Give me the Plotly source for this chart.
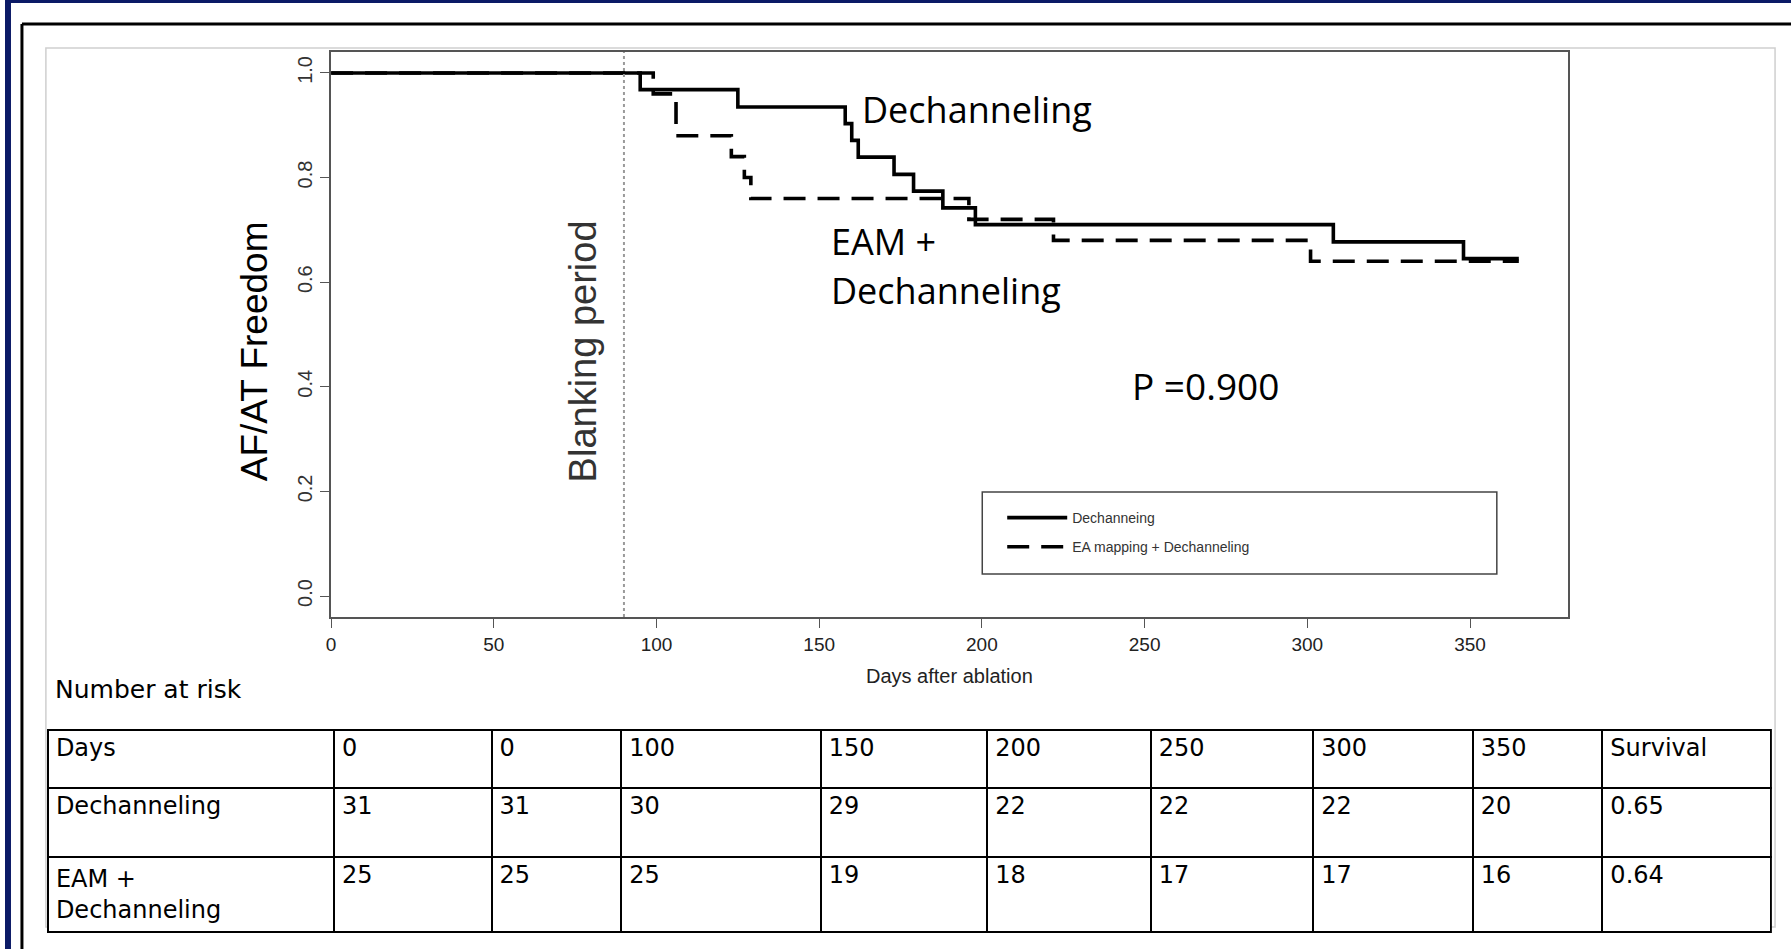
import plotly.graph_objects as go

W, H = 1791, 949

# ---- data ----
dech_days = [0, 95, 125, 158, 160, 162, 173, 179, 188, 198, 308, 348, 365]
dech_surv = [1.0, 0.968, 0.935, 0.903, 0.871, 0.839, 0.806, 0.774, 0.742, 0.710, 0.677, 0.645, 0.645]

eam_days = [0, 99, 106, 123, 127, 129, 196, 222, 301, 365]
eam_surv = [1.0, 0.96, 0.88, 0.84, 0.80, 0.76, 0.72, 0.68, 0.64, 0.64]

blanking_day = 90
p_value = "0.900"

risk_days = [0, 0, 100, 150, 200, 250, 300, 350]
dech_at_risk = [31, 31, 30, 29, 22, 22, 22, 20]
eam_at_risk = [25, 25, 25, 19, 18, 17, 17, 16]
survival = [0.65, 0.64]
group_labels = ["Dechanneling", "EAM +<br>Dechanneling"]
legend_names = ["Dechanneing", "EA mapping + Dechanneling"]

x_ticks = [0, 50, 100, 150, 200, 250, 300, 350]
y_ticks = [0.0, 0.2, 0.4, 0.6, 0.8, 1.0]


def px(x):
    return x / W


def py(y):
    return 1 - y / H


fig = go.Figure()

fig.add_trace(go.Scatter(
    x=dech_days, y=dech_surv, mode="lines", line_shape="hv",
    line=dict(color="black", width=3.6), name=legend_names[0],
    legendgroup="a", hoverinfo="skip"))
fig.add_trace(go.Scatter(
    x=eam_days, y=eam_surv, mode="lines", line_shape="hv",
    line=dict(color="black", width=3.6, dash="22px,12px"), name=legend_names[1],
    legendgroup="b", hoverinfo="skip"))

header = ["Days"] + [str(d) for d in risk_days] + ["Survival"]
cols = [group_labels] + [[a, b] for a, b in zip(dech_at_risk, eam_at_risk)] + [[f"{s:.2f}" for s in survival]]
tfont = dict(family="DejaVu Sans", size=24, color="black")
fig.add_trace(go.Table(
    domain=dict(x=[px(43), px(1771)], y=[0, py(730)]),
    columnwidth=[287, 158, 130, 200, 167, 164, 163, 160, 130, 169],
    header=dict(values=header, align="left", font=tfont, fill_color="white",
                line=dict(color="black", width=2), height=58),
    cells=dict(values=cols, align="left", font=tfont, fill_color="white",
               line=dict(color="black", width=2), height=69),
))

shapes = [
    # navy frame strips
    dict(type="rect", xref="paper", yref="paper", x0=0, x1=px(6), y0=0, y1=1,
         fillcolor="#0b1a66", line_width=0, layer="below"),
    dict(type="rect", xref="paper", yref="paper", x0=0, x1=1, y0=py(3), y1=1,
         fillcolor="#0b1a66", line_width=0, layer="below"),
    # black border
    dict(type="line", xref="paper", yref="paper", x0=px(17), x1=px(17), y0=0, y1=py(24),
         line=dict(color="black", width=3), layer="below"),
    dict(type="line", xref="paper", yref="paper", x0=px(17), x1=1, y0=py(24), y1=py(24),
         line=dict(color="black", width=3), layer="below"),
    # light gray inner frame
    dict(type="rect", xref="paper", yref="paper", x0=px(41), x1=px(1775), y0=py(927), y1=py(48),
         line=dict(color="#cfcfcf", width=1.5), layer="below"),
    # blanking period line
    dict(type="line", xref="x", yref="y domain", x0=blanking_day, x1=blanking_day, y0=0, y1=1,
         line=dict(color="#9a9a9a", width=2, dash="dot")),
    # legend box
    dict(type="rect", xref="paper", yref="paper", x0=px(980), x1=px(1496), y0=py(574), y1=py(492),
         line=dict(color="#444", width=1.5)),
]

big = dict(family="Open Sans", size=36, color="black")
annotations = [
    dict(text="Dechanneling", x=px(857), y=py(109), xanchor="left", yanchor="middle", font=big),
    dict(text="EAM +", x=px(826), y=py(241), xanchor="left", yanchor="middle", font=big),
    dict(text="Dechanneling", x=px(826), y=py(290), xanchor="left", yanchor="middle", font=big),
    dict(text="P =" + p_value, x=px(1128), y=py(386), xanchor="left", yanchor="middle",
         font=dict(family="Open Sans", size=37, color="black")),
    dict(text="AF/AT Freedom", x=px(251), y=py(351), textangle=-90, xanchor="center", yanchor="middle",
         font=dict(family="Liberation Sans", size=37, color="black")),
    dict(text="Blanking period", x=px(580), y=py(351), textangle=-90, xanchor="center", yanchor="middle",
         font=dict(family="Liberation Sans", size=38, color="#333")),
    dict(text="Days after ablation", x=px(947), y=py(676), xanchor="center", yanchor="middle",
         font=dict(family="Liberation Sans", size=20, color="#222")),
    dict(text="Number at risk", x=px(48), y=py(689), xanchor="left", yanchor="middle",
         font=dict(family="DejaVu Sans", size=25, color="black")),
]
for a in annotations:
    a.update(xref="paper", yref="paper", showarrow=False)

fig.update_layout(
    width=W, height=H, autosize=False,
    margin=dict(l=0, r=0, t=0, b=0),
    paper_bgcolor="white", plot_bgcolor="white",
    shapes=shapes, annotations=annotations,
    showlegend=True,
    legend=dict(x=px(1000), y=py(502), xanchor="left", yanchor="top",
                bgcolor="rgba(0,0,0,0)", borderwidth=0, itemwidth=60,
                traceorder="grouped", tracegroupgap=8,
                font=dict(family="Liberation Sans", size=14, color="#333")),
    xaxis=dict(domain=[px(327), px(1567)], range=[0, 380], tickvals=x_ticks,
               showgrid=False, zeroline=False, showline=True, mirror=True,
               linecolor="#555", linewidth=1.5, ticks="outside", ticklen=9, tickcolor="#555",
               tickfont=dict(family="Liberation Sans", size=19, color="#222")),
    yaxis=dict(domain=[py(617), py(52)], range=[-0.04, 1.04], tickvals=y_ticks,
               ticktext=[f"{v:.1f}" for v in y_ticks], tickangle=-90,
               showgrid=False, zeroline=False, showline=True, mirror=True,
               linecolor="#555", linewidth=1.5, ticks="outside", ticklen=9, tickcolor="#555",
               tickfont=dict(family="Liberation Sans", size=20, color="#333")),
)

fig.write_html(
    "out.html",
    config={"displayModeBar": False},
    post_script="document.body.style.margin='0';document.body.style.overflow='hidden';",
)
